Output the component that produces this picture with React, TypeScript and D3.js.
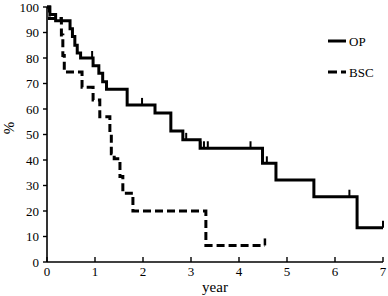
import React from "react";
import * as d3 from "d3";

const opTimes = [0, 0.06, 0.18, 0.48, 0.53, 0.58, 0.63, 0.7, 0.96, 1.08, 1.16, 1.24, 1.67, 2.25, 2.58, 2.83, 3.19, 4.49, 4.77, 5.56, 6.46, 7.0];
const opValues = [100, 97.1, 94.6, 91.5, 88.4, 85, 82, 80, 77, 74, 70.7, 67.7, 61.6, 58.4, 51.4, 47.9, 44.6, 38.7, 32.2, 25.6, 13.4, 13.4];
const opCensor = [0.94, 1.98, 2.9, 3.2, 3.27, 3.35, 4.24, 4.58, 6.3, 6.46, 7.0];

const bscTimes = [0, 0.05, 0.3, 0.33, 0.36, 0.73, 0.96, 1.1, 1.31, 1.34, 1.4, 1.52, 1.58, 1.79, 3.31, 4.54];
const bscValues = [100, 95.5, 89, 81, 74.5, 68.5, 63.5, 57, 50.8, 42.5, 40.5, 33.5, 27, 20, 6.5, 6.5];
const bscCensor = [4.54];

const xTicks = [0, 1, 2, 3, 4, 5, 6, 7];
const yTicks = [0, 10, 20, 30, 40, 50, 60, 70, 80, 90, 100];
const seriesNames = ["OP", "BSC"];

const FONT = "'Liberation Serif', 'Times New Roman', serif";

export default function App() {
  const x = d3.scaleLinear().domain([0, 7]).range([47, 383]);
  const y = d3.scaleLinear().domain([0, 100]).range([262, 7]);

  const line = d3
    .line<[number, number]>()
    .x((d) => x(d[0]))
    .y((d) => y(d[1]))
    .curve(d3.curveStepAfter);

  const opData: [number, number][] = opTimes.map((t, i) => [t, opValues[i]]);
  const bscData: [number, number][] = bscTimes.map((t, i) => [t, bscValues[i]]);

  const survAt = (times: number[], vals: number[], t: number) => {
    let v = vals[0];
    for (let i = 0; i < times.length; i++) if (times[i] <= t) v = vals[i];
    return v;
  };

  return (
    <svg
      width={388}
      height={296}
      style={{ position: "absolute", left: 0, top: 0, background: "#fff" }}
      fontFamily={FONT}
    >
      {/* axes */}
      <line x1={x(0)} x2={x(7)} y1={y(0)} y2={y(0)} stroke="#000" strokeWidth={1.6} />
      <line x1={x(0)} x2={x(0)} y1={y(0)} y2={y(100)} stroke="#000" strokeWidth={1.6} />
      {xTicks.map((t) => (
        <g key={"xt" + t}>
          <line x1={x(t)} x2={x(t)} y1={y(0)} y2={y(0) - 5} stroke="#000" strokeWidth={1.4} />
          <text x={x(t)} y={276} fontSize={13} textAnchor="middle" fill="#000">
            {t}
          </text>
        </g>
      ))}
      {yTicks.map((v) => (
        <g key={"yt" + v}>
          <line x1={x(0) - 4} x2={x(0)} y1={y(v)} y2={y(v)} stroke="#000" strokeWidth={1.4} />
          <text x={39} y={y(v) + 4.5} fontSize={13} textAnchor="end" fill="#000">
            {v}
          </text>
        </g>
      ))}
      <text x={215} y={292} fontSize={15} textAnchor="middle" fill="#000">
        year
      </text>
      <text
        transform={`translate(14,128) rotate(-90)`}
        fontSize={15}
        textAnchor="middle"
        fill="#000"
      >
        %
      </text>

      {/* BSC */}
      <path d={line(bscData) || ""} fill="none" stroke="#000" strokeWidth={3} strokeDasharray="8,4" />
      {bscCensor.map((t, i) => (
        <line
          key={"bc" + i}
          x1={x(t)}
          x2={x(t)}
          y1={y(survAt(bscTimes, bscValues, t))}
          y2={y(survAt(bscTimes, bscValues, t)) - 7}
          stroke="#000"
          strokeWidth={2.5}
        />
      ))}

      {/* OP */}
      <path d={line(opData) || ""} fill="none" stroke="#000" strokeWidth={3} />
      {opCensor.map((t, i) => (
        <line
          key={"oc" + i}
          x1={x(t)}
          x2={x(t)}
          y1={y(survAt(opTimes, opValues, t))}
          y2={y(survAt(opTimes, opValues, t)) - 7}
          stroke="#000"
          strokeWidth={2}
        />
      ))}

      {/* legend */}
      <line x1={328} x2={346} y1={41} y2={41} stroke="#000" strokeWidth={3} />
      <text x={349} y={46} fontSize={13} fill="#000">
        {seriesNames[0]}
      </text>
      <line x1={328} x2={346} y1={72} y2={72} stroke="#000" strokeWidth={3} strokeDasharray="9,4" />
      <text x={349} y={77} fontSize={13} fill="#000">
        {seriesNames[1]}
      </text>
    </svg>
  );
}
